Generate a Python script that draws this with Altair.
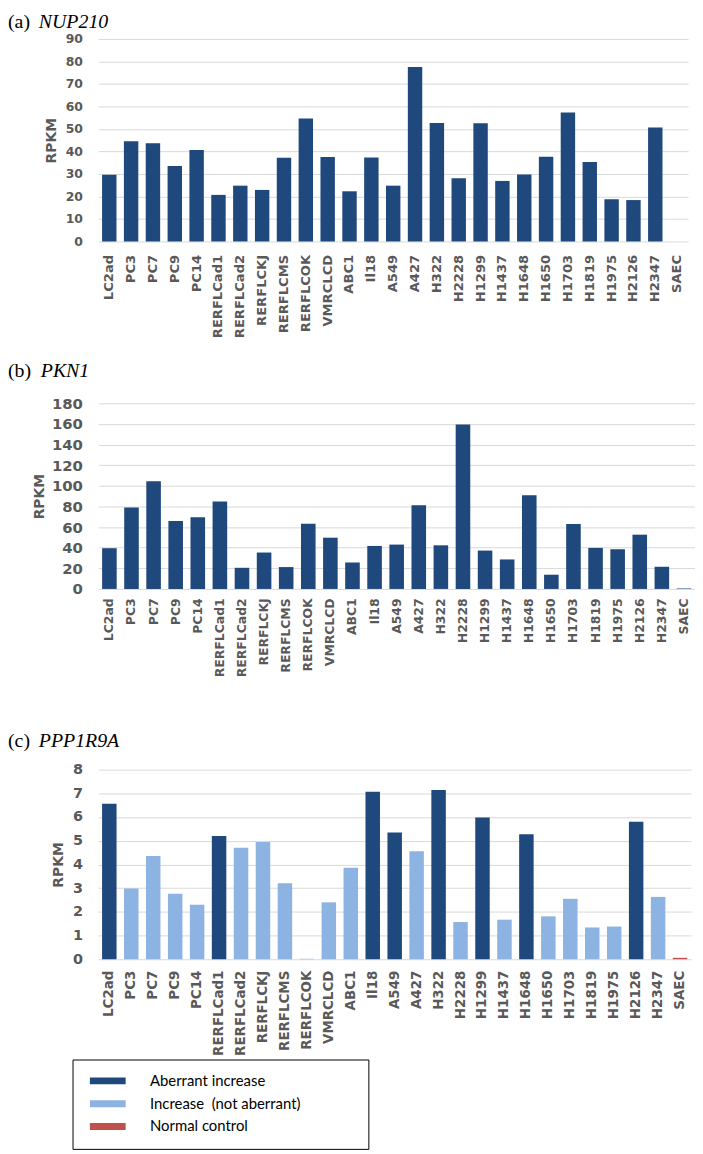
import altair as alt
import pandas as pd

cell_lines = ["LC2ad", "PC3", "PC7", "PC9", "PC14", "RERFLCad1", "RERFLCad2", "RERFLCKJ",
              "RERFLCMS", "RERFLCOK", "VMRCLCD", "ABC1", "Il18", "A549", "A427", "H322",
              "H2228", "H1299", "H1437", "H1648", "H1650", "H1703", "H1819", "H1975",
              "H2126", "H2347", "SAEC"]

nup210 = [29.7, 44.5, 43.7, 33.5, 40.6, 20.7, 24.8, 22.9, 37.2, 54.7, 37.5, 22.3, 37.3,
          24.8, 77.5, 52.6, 28.1, 52.5, 26.9, 29.8, 37.6, 57.3, 35.3, 18.8, 18.4, 50.6, 0.0]

pkn1 = [39.5, 78.9, 104.3, 65.8, 69.6, 84.7, 20.5, 35.3, 21.2, 63.2, 49.7, 25.7, 41.7,
        43.0, 81.2, 42.3, 159.4, 37.2, 28.6, 90.8, 13.8, 62.9, 39.8, 38.5, 52.6, 21.5, 0.5]

ppp1r9a = [6.56, 2.98, 4.36, 2.76, 2.30, 5.20, 4.70, 4.95, 3.21, 0.02, 2.40, 3.86, 7.07,
           5.35, 4.56, 7.14, 1.57, 5.98, 1.67, 5.27, 1.81, 2.55, 1.34, 1.38, 5.80, 2.63, 0.06]

status_labels = ["Aberrant increase", "Increase  (not aberrant)", "Normal control"]
status_colors = ["#1F497D", "#8DB3E2", "#C0504D"]

A, I, N = status_labels
ppp1r9a_status = [A, I, I, I, I, A, I, I, I, I, I, I, A, A, I, A, I, A, I, A, I, I, I, I,
                  A, I, N]

panel_tags = ["(a)", "(b)", "(c)"]
gene_names = ["NUP210", "PKN1", "PPP1R9A"]
y_max = [90, 180, 8]
y_step = [10, 20, 1]

GREY = "#595959"
LEFT = -91
PAD = "\u00a0" * 14 + "\u200b"


def panel(i, values, width, height, ylab_size, xlab_size, xlab_pad, rpkm_x,
          title_y, gene_dx, status=None, x_title_pad=None):
    df = pd.DataFrame({"cell": cell_lines, "rpkm": values})
    if status is not None:
        df["status"] = status

    x_axis_kw = dict(labelAngle=-90, labelFont="DejaVu Sans", labelFontWeight="bold",
                     labelFontSize=xlab_size, labelColor=GREY, labelPadding=xlab_pad,
                     ticks=False, domain=False, grid=False)
    if x_title_pad is not None:
        x_axis_kw.update(titleFontSize=10, titlePadding=x_title_pad)
        x_enc = alt.X("cell:N", sort=cell_lines, title=" ",
                      scale=alt.Scale(paddingInner=0.34, paddingOuter=0.17),
                      axis=alt.Axis(**x_axis_kw))
    else:
        x_enc = alt.X("cell:N", sort=cell_lines, title=None,
                      scale=alt.Scale(paddingInner=0.34, paddingOuter=0.17),
                      axis=alt.Axis(**x_axis_kw))

    ymax, ystep = y_max[i], y_step[i]
    y_enc = alt.Y("rpkm:Q", scale=alt.Scale(domain=[0, ymax], nice=False),
                  axis=alt.Axis(values=list(range(0, ymax + ystep, ystep)),
                                title="RPKM", titleFont="DejaVu Sans",
                                titleFontWeight="bold", titleFontSize=14,
                                titleColor=GREY, titleX=rpkm_x, titleY=height / 2,
                                titleBaseline="alphabetic", titleAngle=270,
                                labelFont="DejaVu Sans", labelFontWeight="bold",
                                labelFontSize=ylab_size, labelColor=GREY,
                                labelPadding=16, ticks=False, domain=False,
                                grid=True, gridColor="#d9d9d9", gridWidth=1))

    if status is None:
        bars = alt.Chart(df).mark_bar(color=status_colors[0]).encode(x=x_enc, y=y_enc)
    else:
        bars = alt.Chart(df).mark_bar().encode(
            x=x_enc, y=y_enc,
            color=alt.Color("status:N",
                            scale=alt.Scale(domain=status_labels, range=status_colors),
                            legend=alt.Legend(
                                title=None, orient="none", legendX=-26, legendY=292,
                                fillColor="white", strokeColor="black", padding=14,
                                symbolType="M-0.667,-0.583H5.333V0.583H-0.667Z",
                                symbolSize=144, symbolStrokeWidth=0, symbolOpacity=1,
                                labelFont="Lato", labelFontSize=15, labelColor="black",
                                labelOffset=49, rowPadding=7, labelLimit=600,
                                labelExpr="replace(datum.label, '  ', ' \u00a0') + '"
                                          + PAD + "'")))

    tdf = pd.DataFrame({"tag": [panel_tags[i]], "gene": [gene_names[i]]})
    tag = alt.Chart(tdf).mark_text(font="Liberation Serif", fontSize=20, align="left",
                                   baseline="top", color="black").encode(
        text="tag:N", x=alt.value(LEFT), y=alt.value(title_y))
    gene = alt.Chart(tdf).mark_text(font="Liberation Serif", fontSize=20, align="left",
                                    baseline="top", fontStyle="italic",
                                    color="black").encode(
        text="gene:N", x=alt.value(LEFT + gene_dx), y=alt.value(title_y))

    return alt.layer(bars, tag, gene).properties(width=width, height=height)


pa = panel(0, nup210, 594, 204, 12.5, 13.2, 13, -43, -27, 31)
pb = panel(1, pkn1, 601, 187, 15, 12.5, 9, -55, -42, 33, x_title_pad=20)
pc = panel(2, ppp1r9a, 597, 191, 14.5, 13.5, 11, -36, -39, 31, status=ppp1r9a_status)

chart = alt.vconcat(pa, pb, pc, spacing=24).resolve_scale(
    color="independent").properties(padding=0).configure_view(stroke=None)

chart.save("out.html", embed_options={"renderer": "svg", "actions": False})
